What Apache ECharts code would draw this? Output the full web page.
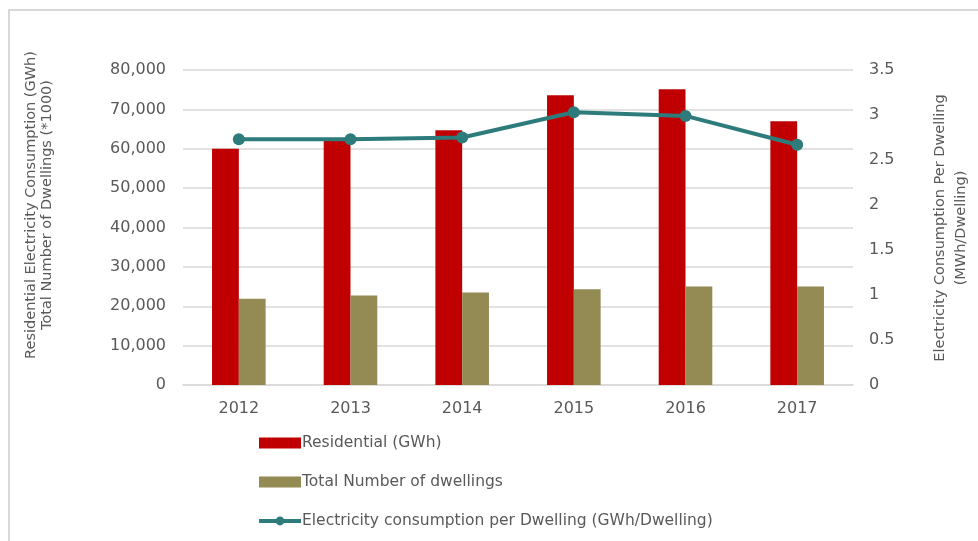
<!DOCTYPE html>
<html>
<head>
<meta charset="utf-8">
<script src="https://cdn.jsdelivr.net/npm/echarts@6/dist/echarts.min.js"></script>
<style>
html,body{margin:0;padding:0;background:#fff;}
#chart{width:978px;height:541px;}
</style>
</head>
<body>
<div id="chart"></div>
<script>
var years = ['2012', '2013', '2014', '2015', '2016', '2017'];
var residential = [60000, 62000, 64700, 73600, 75100, 67000];
var dwellings = [21900, 22700, 23500, 24300, 25000, 25000];
var perDwelling = [2.73, 2.73, 2.75, 3.03, 2.99, 2.67];
var leftTicks = [0, 10000, 20000, 30000, 40000, 50000, 60000, 70000, 80000];
var rightTicks = [0, 0.5, 1, 1.5, 2, 2.5, 3, 3.5];

var FONT = 'DejaVu Sans';
var TXT = '#595959';
var chart = echarts.init(document.getElementById('chart'));
chart.setOption({
  animation: false,
  backgroundColor: '#fff',
  textStyle: { fontFamily: FONT },
  graphic: [
    { type: 'polyline', shape: { points: [[9, 541], [9, 10], [978, 10]] },
      style: { stroke: '#d9d9d9', lineWidth: 2, fill: null } },
    { type: 'text', x: 31, y: 205, rotation: Math.PI / 2,
      style: { text: 'Residential Electricity Consumption (GWh)', fill: TXT, font: '14.5px "DejaVu Sans"', align: 'center', verticalAlign: 'middle' } },
    { type: 'text', x: 47, y: 205, rotation: Math.PI / 2,
      style: { text: 'Total Number of Dwellings (*1000)', fill: TXT, font: '14.5px "DejaVu Sans"', align: 'center', verticalAlign: 'middle' } },
    { type: 'text', x: 940, y: 228, rotation: Math.PI / 2,
      style: { text: 'Electricity Consumption Per Dwelling', fill: TXT, font: '14.5px "DejaVu Sans"', align: 'center', verticalAlign: 'middle' } },
    { type: 'text', x: 961, y: 228, rotation: Math.PI / 2,
      style: { text: '(MWh/Dwelling)', fill: TXT, font: '14.5px "DejaVu Sans"', align: 'center', verticalAlign: 'middle' } }
  ],
  legend: {
    orient: 'vertical',
    left: 252,
    top: 429,
    itemWidth: 42,
    itemHeight: 11,
    itemGap: 21,
    textStyle: { color: TXT, fontSize: 15.5, fontFamily: FONT, padding: [0, 0, 0, -4], lineHeight: 18 },
    data: [
      { name: 'Residential (GWh)', icon: 'rect' },
      { name: 'Total Number of dwellings', icon: 'rect' },
      { name: 'Electricity consumption per Dwelling (GWh/Dwelling)', lineStyle: { width: 4 }, itemStyle: { color: '#2E7B7B' } }
    ]
  },
  grid: { left: 183, right: 125, top: 70, bottom: 156, containLabel: false },
  xAxis: {
    type: 'category',
    data: years,
    axisLine: { show: true, lineStyle: { color: '#d9d9d9', width: 1.5 } },
    axisTick: { show: false },
    axisLabel: { color: TXT, fontSize: 16, fontFamily: FONT, margin: 16 }
  },
  yAxis: [
    {
      type: 'value', min: 0, max: 80000, interval: 10000,
      axisLine: { show: false }, axisTick: { show: false },
      splitLine: { lineStyle: { color: '#d9d9d9', width: 1.5 } },
      axisLabel: { color: TXT, fontSize: 16, fontFamily: FONT, margin: 17,
        formatter: function (v) { return leftTicks.indexOf(v) >= 0 ? v.toLocaleString('en-US') : ''; } }
    },
    {
      type: 'value', min: 0, max: 3.5, interval: 0.5,
      axisLine: { show: false }, axisTick: { show: false },
      splitLine: { show: false },
      axisLabel: { color: TXT, fontSize: 16, fontFamily: FONT, margin: 16,
        formatter: function (v) { return rightTicks.indexOf(v) >= 0 ? String(v) : ''; } }
    }
  ],
  series: [
    { name: 'Residential (GWh)', type: 'bar', data: residential, yAxisIndex: 0,
      barWidth: '24%', barGap: '0%', itemStyle: { color: '#C00000' } },
    { name: 'Total Number of dwellings', type: 'bar', data: dwellings, yAxisIndex: 0,
      barWidth: '24%', barGap: '0%', itemStyle: { color: '#948A54' } },
    { name: 'Electricity consumption per Dwelling (GWh/Dwelling)', type: 'line', data: perDwelling, yAxisIndex: 1,
      symbol: 'circle', symbolSize: 12,
      lineStyle: { color: '#2E7B7B', width: 4 }, itemStyle: { color: '#2E7B7B' } }
  ]
});
</script>
</body>
</html>
